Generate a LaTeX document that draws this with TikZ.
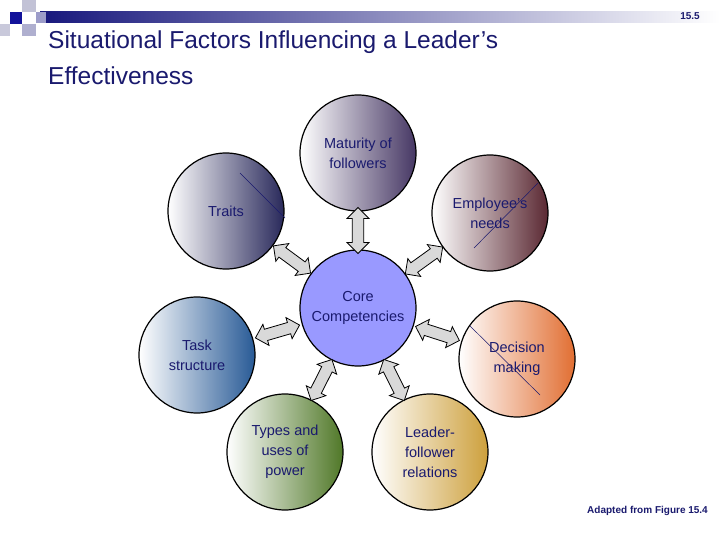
\documentclass[tikz,border=0pt]{standalone}
\usepackage{fontspec}
\setmainfont{Liberation Sans}
\usetikzlibrary{shapes.arrows,calc}
\definecolor{navy}{HTML}{1A1A6E}
\tikzset{
 circbase/.style={circle,draw=black,line width=1.2pt,minimum size=116pt,inner sep=0pt,align=center,font=\fontsize{14.5}{20}\selectfont,text=navy},
 circ/.style={circbase,shading angle=135},
 darr/.style={double arrow,draw=black,fill=gray!30,minimum height=46pt,minimum width=22pt,double arrow head extend=3pt,inner sep=3pt,line width=0.8pt},
 slash/.style={draw=navy,line width=0.5pt}
}
\begin{document}
\begin{tikzpicture}[x=1pt,y=-1pt]
\useasboundingbox (0,0) rectangle (720,540);
\fill[white] (0,0) rectangle (720,540);
% header
\shade[left color=navy!90!blue,right color=white] (40,12) rectangle (720,23);
\fill[navy!70!blue] (10,12) rectangle (22,24);
\fill[blue!20!gray!40] (22,0) rectangle (36,12);
\fill[blue!25!gray!50] (22,24) rectangle (36,36);
\fill[blue!20!gray!35] (0,24) rectangle (10,36);
\fill[blue!30!gray!60] (36,12) rectangle (46,23);
\node[font=\bfseries\fontsize{10}{12}\selectfont,text=navy] (num) at (690,16) {15.5};
\node[anchor=north west,align=left,text=navy,font=\fontsize{24.5}{36}\selectfont,inner sep=0pt] (title) at (48,31) {Situational Factors Influencing a Leader’s\\Effectiveness};
% circles
\node[circ,left color=white,right color={rgb,255:red,70;green,55;blue,100}] (mat) at (358,153) {Maturity of\\followers};
\node[circ,left color=white,right color={rgb,255:red,40;green,40;blue,90}] (tra) at (226,211) {Traits};
\node[circ,left color=white,right color={rgb,255:red,90;green,40;blue,50}] (emp) at (490,213) {Employee’s\\needs};
\node[circbase,fill={rgb,255:red,153;green,153;blue,255}] (core) at (358,308) {Core\\Competencies};
\node[circ,left color=white,right color={rgb,255:red,40;green,90;blue,150}] (task) at (197,355) {Task\\structure};
\node[circ,left color=white,right color={rgb,255:red,225;green,110;blue,50}] (dec) at (517,359) {Decision\\making};
\node[circ,left color=white,right color={rgb,255:red,80;green,120;blue,40}] (typ) at (285,452) {Types and\\uses of\\power};
\node[circ,left color=white,right color={rgb,255:red,205;green,160;blue,60}] (lea) at (430,452) {Leader-\\follower\\relations};
% slashes
\draw[slash] (240,173) coordinate (s1) -- (285,218) coordinate (s2);
\draw[slash] (538,183) coordinate (s3) -- (474,248) coordinate (s4);
\draw[slash] (470,326) coordinate (s5) -- (540,395) coordinate (s6);
% arrows
\foreach \nm in {mat,tra,emp,task,dec,typ,lea}{
  \path let \p1=($(\nm)-(core)$), \n1={atan2(\y1,\x1)} in
    node[darr,rotate=\n1] (a\nm) at ($(core)!0.5!(\nm)$) {};
}
\node[anchor=south east,font=\bfseries\fontsize{10}{12}\selectfont,text=navy,inner sep=0pt] (src) at (708,516) {Adapted from Figure 15.4};
\end{tikzpicture}
\end{document}
